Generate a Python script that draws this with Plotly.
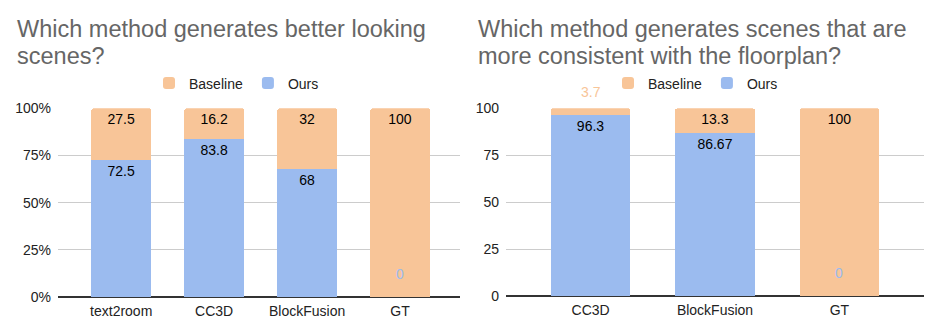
import plotly.graph_objects as go
from plotly.subplots import make_subplots

# survey results
left_categories = ["text2room", "CC3D", "BlockFusion", "GT"]
left_ours = [72.5, 83.8, 68, 0]
left_baseline = [27.5, 16.2, 32, 100]

right_categories = ["CC3D", "BlockFusion", "GT"]
right_ours = [96.3, 86.67, 0]
right_baseline = [3.7, 13.3, 100]

y_ticks = [0, 25, 50, 75, 100]
left_tick_text = ["0%", "25%", "50%", "75%", "100%"]
right_tick_text = ["0", "25", "50", "75", "100"]

left_title = ["Which method generates better looking", "scenes?"]
right_title = ["Which method generates scenes that are", "more consistent with the floorplan?"]

ORANGE = "#f8c598"
BLUE = "#9bbbef"
FONT = "Liberation Sans, Arial, sans-serif"
W, H = 945, 330


def label_positions(values):
    # sheets hides labels that don't fit; those get added back as annotations
    return ["inside" if v >= 8 else "none" for v in values]


fig = make_subplots(rows=1, cols=2)

panels = [
    (1, left_categories, left_ours, left_baseline, "legend"),
    (2, right_categories, right_ours, right_baseline, "legend2"),
]

for col, cats, ours, base, leg in panels:
    fig.add_trace(
        go.Bar(
            x=cats, y=ours, name="Ours", marker_color=BLUE, legend=leg,
            legendrank=2, text=[f"{v:g}" for v in ours],
            textposition=label_positions(ours), insidetextanchor="end",
            textfont=dict(color="#000000", size=14, family=FONT),
        ),
        row=1, col=col,
    )
    fig.add_trace(
        go.Bar(
            x=cats, y=base, name="Baseline", marker_color=ORANGE, legend=leg,
            legendrank=1, text=[f"{v:g}" for v in base],
            textposition=label_positions(base), insidetextanchor="end",
            textfont=dict(color="#000000", size=14, family=FONT),
        ),
        row=1, col=col,
    )

    ax = "" if col == 1 else str(col)
    for c, o, b in zip(cats, ours, base):
        if o < 8:
            # zero-height segment: label sits near the foot of the bar
            fig.add_annotation(x=c, y=12, text=f"{o:g}", showarrow=False,
                               font=dict(color=BLUE, size=14, family=FONT),
                               xref="x" + ax, yref="y" + ax)
        if b < 8:
            # thin segment: label floats above the plot, level with the legend
            fig.add_annotation(x=c, y=1 - 82 / H, text=f"{b:g}", showarrow=False,
                               font=dict(color=ORANGE, size=14, family=FONT),
                               xref="x" + ax, yref="paper")

fig.update_traces(marker_line_width=0, cliponaxis=False)

fig.update_yaxes(
    showgrid=True, gridcolor="#cccccc", gridwidth=1,
    zeroline=True, zerolinecolor="#333333", zerolinewidth=1.5,
    range=[0, 100], tickmode="array", tickvals=y_ticks,
    tickfont=dict(size=14, color="#222222", family=FONT),
    ticklabelstandoff=6, showline=False, automargin=False,
)
fig.update_yaxes(ticktext=left_tick_text, domain=[0.1, 0.672], row=1, col=1)
fig.update_yaxes(ticktext=right_tick_text, domain=[0.103, 0.672], row=1, col=2)

fig.update_xaxes(showgrid=False, tickfont=dict(size=14, color="#222222", family=FONT),
                 ticklabelstandoff=4, automargin=False)
fig.update_xaxes(domain=[58 / W, 460 / W], range=[-0.68, 3.645], row=1, col=1)
fig.update_xaxes(domain=[506 / W, 924 / W], range=[-0.68, 2.68], row=1, col=2)

# two-line titles, one annotation per line to keep the tight line spacing
for x0, lines in [(15, left_title), (476, right_title)]:
    for i, line in enumerate(lines):
        fig.add_annotation(text=line, xref="paper", yref="paper", x=x0 / W,
                           y=1 - (29.5 + 26.5 * i) / H, xanchor="left", yanchor="middle",
                           showarrow=False, font=dict(size=23.5, color="#666666", family=FONT))

legend_common = dict(orientation="h", yanchor="middle", y=1 - 83.5 / H, xanchor="left",
                     traceorder="normal",
                     font=dict(size=14, color="#222222", family=FONT),
                     bgcolor="rgba(0,0,0,0)", itemclick=False)

fig.update_layout(
    barmode="stack",
    width=W, height=H,
    margin=dict(l=0, r=0, t=0, b=0, autoexpand=False),
    paper_bgcolor="white", plot_bgcolor="white",
    bargap=0.36, barcornerradius=2,
    showlegend=True,
    legend=dict(legend_common, x=149 / W),
    legend2=dict(legend_common, x=608 / W),
    font=dict(family=FONT),
)

fig.write_html("out.html", config={"displayModeBar": False},
               post_script="document.body.style.margin = '0px';")
